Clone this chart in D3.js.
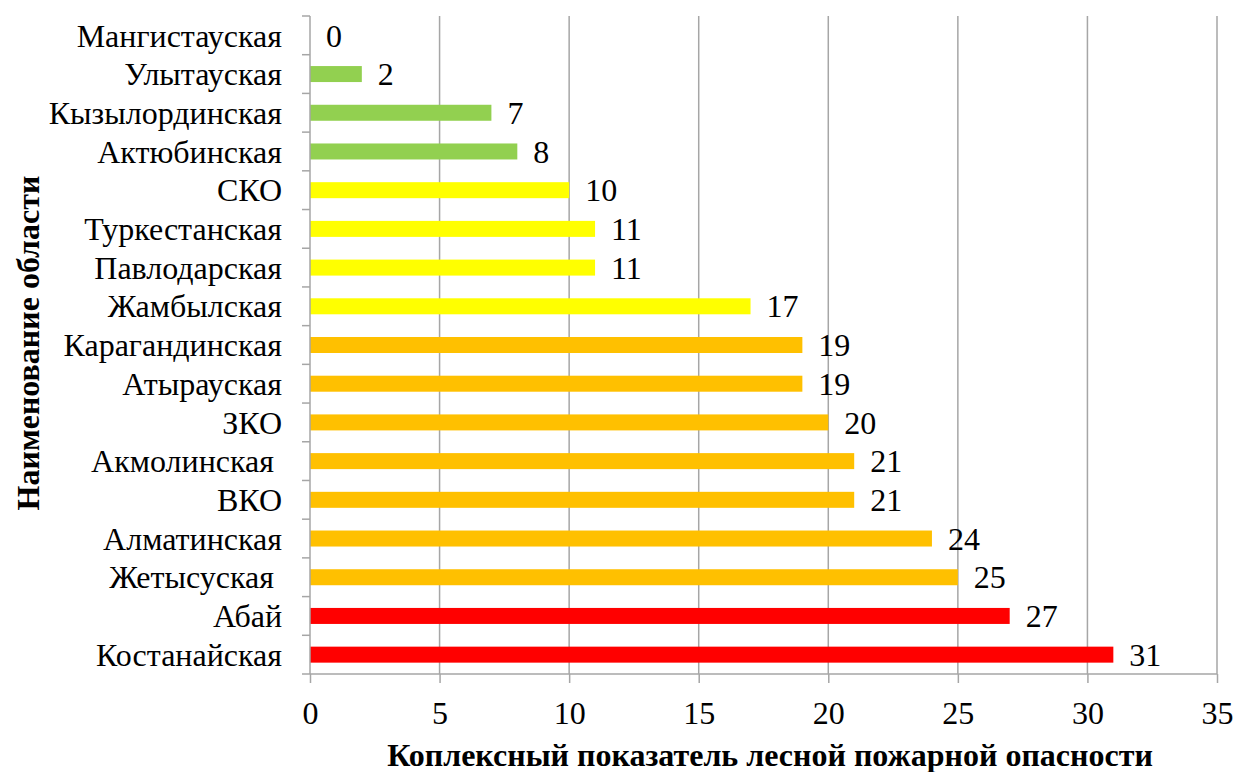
<!DOCTYPE html>
<html>
<head>
<meta charset="utf-8">
<script src="https://cdn.jsdelivr.net/npm/d3@7"></script>
<style>
  body { margin: 0; background: #fff; }
  svg text { font-family: "Liberation Serif", "Times New Roman", serif; fill: #000; }
</style>
</head>
<body>
<div class="chart"></div>
<script>
// regions top to bottom as in the picture
var regions = ["Мангистауская", "Улытауская", "Кызылординская", "Актюбинская", "СКО",
  "Туркестанская", "Павлодарская", "Жамбылская", "Карагандинская", "Атырауская", "ЗКО",
  "Акмолинская ", "ВКО", "Алматинская", "Жетысуская ", "Абай", "Костанайская"];
var values = [0, 2, 7, 8, 10, 11, 11, 17, 19, 19, 20, 21, 21, 24, 25, 27, 31];
var levels = ["low", "low", "low", "low", "mid", "mid", "mid", "mid", "high", "high", "high",
  "high", "high", "high", "high", "top", "top"];
var xTicks = [0, 5, 10, 15, 20, 25, 30, 35];

var colors = {low: "#92D050", mid: "#FFFF00", high: "#FFC000", top: "#FF0000"};

var width = 1236, height = 772;
var plotL = 310, plotR = 1217, plotT = 16, plotB = 674;
var fs = "32px";
var serif = '"Liberation Serif", "Times New Roman", serif';

var svg = d3.select(".chart").append("svg")
    .attr("width", width)
    .attr("height", height)
    .attr("font-family", serif);

var x = d3.scaleLinear().domain([0, 35]).range([plotL, plotR]);
var y = d3.scaleBand().domain(d3.range(regions.length)).range([plotT, plotB]);

// vertical gridlines
svg.selectAll(".grid")
    .data(xTicks.slice(1))
    .enter().append("line")
    .attr("x1", function(d) { return x(d); })
    .attr("x2", function(d) { return x(d); })
    .attr("y1", plotT)
    .attr("y2", plotB)
    .attr("stroke", "#A6A6A6")
    .attr("stroke-width", 1.5);

// bars
var barH = 16;
svg.selectAll(".bar")
    .data(values)
    .enter().append("rect")
    .attr("x", x(0))
    .attr("y", function(d, i) { return y(i) + y.bandwidth() / 2 - barH / 2; })
    .attr("width", function(d) { return x(d) - x(0); })
    .attr("height", barH)
    .attr("fill", function(d, i) { return colors[levels[i]]; });

// value labels
svg.selectAll(".val")
    .data(values)
    .enter().append("text")
    .attr("x", function(d) { return x(d) + 16; })
    .attr("y", function(d, i) { return y(i) + y.bandwidth() / 2; })
    .attr("dy", "0.35em")
    .style("font-family", serif)
    .style("font-size", fs)
    .text(function(d) { return d; });

// x axis
var xAxis = svg.append("g")
    .attr("transform", "translate(0," + plotB + ")")
    .call(d3.axisBottom(x).tickValues(xTicks).tickSize(9).tickPadding(18));
xAxis.attr("font-family", serif);
xAxis.selectAll("path, line").attr("stroke", "#A6A6A6").attr("stroke-width", 1.5);
xAxis.select(".domain").attr("d", "M" + plotL + ",0H" + plotR);
xAxis.selectAll("text").style("font-size", fs).style("font-family", serif).attr("fill", "#000");

// y axis line and ticks at band boundaries
svg.append("line")
    .attr("x1", plotL).attr("x2", plotL)
    .attr("y1", plotT).attr("y2", plotB)
    .attr("stroke", "#A6A6A6").attr("stroke-width", 1.5);
svg.selectAll(".ytick")
    .data(d3.range(regions.length + 1))
    .enter().append("line")
    .attr("x1", plotL - 8).attr("x2", plotL)
    .attr("y1", function(d) { return plotT + d * y.step(); })
    .attr("y2", function(d) { return plotT + d * y.step(); })
    .attr("stroke", "#A6A6A6").attr("stroke-width", 1.5);

// category labels
svg.selectAll(".cat")
    .data(regions)
    .enter().append("text")
    .attr("x", plotL - 28)
    .attr("y", function(d, i) { return y(i) + y.bandwidth() / 2; })
    .attr("dy", "0.35em")
    .attr("text-anchor", "end")
    .style("white-space", "pre")
    .style("font-family", serif)
    .style("font-size", fs)
    .text(function(d) { return d; });

// axis titles
svg.append("text")
    .attr("x", 770)
    .attr("y", 755)
    .attr("dy", "0.35em")
    .attr("text-anchor", "middle")
    .style("font-family", serif)
    .style("font-size", "32px")
    .style("font-weight", "bold")
    .text("Коплексный показатель лесной пожарной опасности");

svg.append("text")
    .attr("transform", "translate(28,343) rotate(-90)")
    .attr("dy", "0.35em")
    .attr("text-anchor", "middle")
    .style("font-family", serif)
    .style("font-size", "32px")
    .style("font-weight", "bold")
    .text("Наименование области");
</script>
</body>
</html>
